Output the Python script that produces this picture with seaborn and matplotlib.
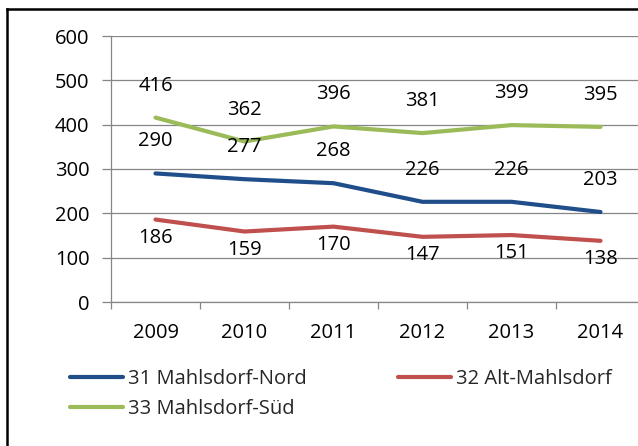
import matplotlib
matplotlib.use("Agg")
import matplotlib.pyplot as plt
from matplotlib.lines import Line2D
import seaborn as sns
import pandas as pd

years = ["2009", "2010", "2011", "2012", "2013", "2014"]
nord = [290, 277, 268, 226, 226, 203]
alt = [186, 159, 170, 147, 151, 138]
sued = [416, 362, 396, 381, 399, 395]
series_names = ["31 Mahlsdorf-Nord", "32 Alt-Mahlsdorf", "33 Mahlsdorf-Süd"]
y_ticks = [0, 100, 200, 300, 400, 500, 600]

colors = {series_names[0]: "#1F4E8A", series_names[1]: "#C0504D", series_names[2]: "#9BBB59"}

sns.set_theme(style="white")
plt.rcParams["font.family"] = ["Open Sans", "DejaVu Sans"]

rows = []
for name, vals in zip(series_names, [nord, alt, sued]):
    for i, v in enumerate(vals):
        rows.append({"idx": i, "year": years[i], "value": v, "series": name})
df = pd.DataFrame(rows)

W, H = 638, 446
FS = 14.5
fig = plt.figure(figsize=(W / 100, H / 100), dpi=100)
ax = fig.add_axes([111 / W, 1 - 302 / H, 534 / W, 266 / H])

sns.lineplot(data=df, x="idx", y="value", hue="series", hue_order=series_names,
             palette=colors, linewidth=3.0, ax=ax, legend=True, sort=False)

grey = "#868686"
ax.set_xlim(-0.5, 5.5)
ax.set_ylim(0, 600)
ax.set_yticks(y_ticks)
ax.set_yticklabels([str(t) for t in y_ticks])
ax.set_xticks(range(len(years)))
ax.set_xticklabels(years)
ax.set_xticks([i - 0.5 for i in range(len(years) + 1)], minor=True)
ax.set_xlabel("")
ax.set_ylabel("")
ax.yaxis.grid(True, color=grey, linewidth=0.9)
ax.set_axisbelow(True)
for s in ["top", "right"]:
    ax.spines[s].set_visible(False)
for s in ["left", "bottom"]:
    ax.spines[s].set_color(grey)
    ax.spines[s].set_linewidth(0.9)
ax.tick_params(axis="y", which="major", left=True, length=6.5, width=0.9, color=grey,
               pad=9, labelsize=FS, labelcolor="black")
ax.tick_params(axis="x", which="major", bottom=False, length=0, pad=15,
               labelsize=FS, labelcolor="black")
ax.tick_params(axis="x", which="minor", bottom=True, length=5, width=0.9, color=grey)

# value labels: above for Nord and Süd, below for Alt
for name, vals, dy in [(series_names[0], nord, 32), (series_names[2], sued, 32),
                       (series_names[1], alt, -18)]:
    for i, v in enumerate(vals):
        ax.annotate(str(v), xy=(i, v), xytext=(0, dy), textcoords="offset pixels",
                    ha="center", va="center", fontsize=FS, color="black")

handles, labels = ax.get_legend_handles_labels()
ax.get_legend().remove()
hmap = dict(zip(labels, handles))
order = [series_names[0], series_names[2], series_names[1]]
fig.legend([hmap[n] for n in order], order, ncol=2, loc="upper left",
           bbox_to_anchor=(70 / W, 1 - 369 / H), frameon=False, fontsize=FS,
           handlelength=2.64, handletextpad=0.25, columnspacing=4.5,
           labelspacing=0.5, borderpad=0, borderaxespad=0)

# outer chart frame: top and left edges
fx, fy = 7 / W, 1 - 9 / H
fig.add_artist(Line2D([fx, 1.02], [fy, fy], transform=fig.transFigure,
                      color="black", linewidth=1.8, solid_capstyle="projecting"))
fig.add_artist(Line2D([fx, fx], [fy, -0.02], transform=fig.transFigure,
                      color="black", linewidth=1.8, solid_capstyle="projecting"))

fig.savefig("out.png", dpi=100)
